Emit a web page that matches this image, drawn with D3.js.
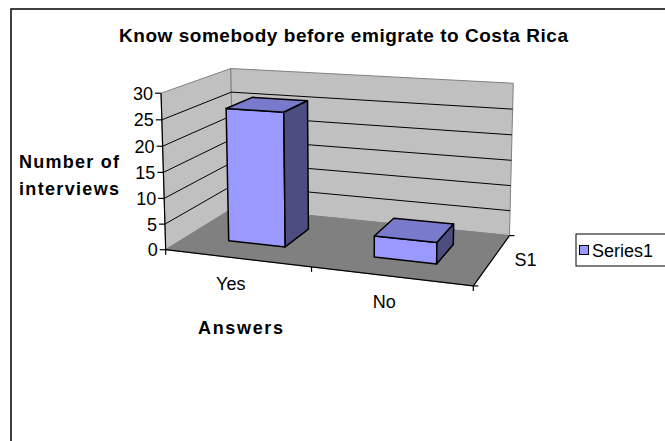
<!DOCTYPE html>
<html>
<head>
<meta charset="utf-8">
<script src="https://cdn.jsdelivr.net/npm/d3@7"></script>
<style>
  html, body { margin: 0; padding: 0; background: #fff; }
  svg text { font-family: "Liberation Sans", Arial, sans-serif; fill: #000; }
</style>
</head>
<body>
<svg id="chart" width="665" height="441"></svg>
<script>
// ---- data ----
const categories = ["Yes", "No"];
const values = [26, 4];
const seriesNames = ["Series1"];
const depthLabels = ["S1"];
const valueTicks = [0, 5, 10, 15, 20, 25, 30];
const titleText = "Know somebody before emigrate to Costa Rica";
const valueAxisTitle = ["Number of", "interviews"];
const categoryAxisTitle = "Answers";

// ---- 3D frame: unit cube (X = category, Y = value, Z = depth) and where its corners sit on screen ----
const frameCorners = [
  // X, Y, Z, screenX, screenY
  [0, 0, 0, 167, 248],
  [1, 0, 0, 473, 288],
  [0, 0, 1, 232, 210],
  [1, 0, 1, 510, 233],
  [0, 1, 0, 160, 93],
  [0, 1, 1, 232, 68],
  [1, 1, 1, 513, 84]
];

// Solve a 3x4 perspective camera matrix (DLT, least squares)
function solveCamera(pts) {
  const A = [], b = [];
  for (const [X, Y, Z, x, y] of pts) {
    A.push([X, Y, Z, 1, 0, 0, 0, 0, -x * X, -x * Y, -x * Z]); b.push(x);
    A.push([0, 0, 0, 0, X, Y, Z, 1, -y * X, -y * Y, -y * Z]); b.push(y);
  }
  const n = 11;
  const M = [];
  for (let i = 0; i < n; i++) {
    const row = new Array(n + 1).fill(0);
    for (let j = 0; j < n; j++) for (let k = 0; k < A.length; k++) row[j] += A[k][i] * A[k][j];
    for (let k = 0; k < A.length; k++) row[n] += A[k][i] * b[k];
    M.push(row);
  }
  for (let c = 0; c < n; c++) {
    let p = c;
    for (let r = c + 1; r < n; r++) if (Math.abs(M[r][c]) > Math.abs(M[p][c])) p = r;
    [M[c], M[p]] = [M[p], M[c]];
    for (let r = 0; r < n; r++) {
      if (r === c) continue;
      const f = M[r][c] / M[c][c];
      for (let j = c; j <= n; j++) M[r][j] -= f * M[c][j];
    }
  }
  return M.map((row, i) => row[n] / row[i]);
}
const P = solveCamera(frameCorners);
function project(X, Y, Z) {
  const w = P[8] * X + P[9] * Y + P[10] * Z + 1;
  return [
    (P[0] * X + P[1] * Y + P[2] * Z + P[3]) / w,
    (P[4] * X + P[5] * Y + P[6] * Z + P[7]) / w
  ];
}

// ---- scales ----
const xScale = d3.scaleBand().domain(categories).range([0, 1]).paddingInner(0.6).paddingOuter(0.3);
const zScale = d3.scaleBand().domain(depthLabels).range([0, 1]).paddingInner(0.6).paddingOuter(0.3);
const yScale = d3.scaleLinear().domain([0, 30]).range([0, 1]);

const svg = d3.select("#chart");
const line = d3.line();
const poly = pts => line(pts.map(p => project(...p))) + "Z";

// outer chart border
svg.append("rect").attr("x", 11).attr("y", 9).attr("width", 700).attr("height", 500)
  .attr("fill", "#fff").attr("stroke", "#000").attr("stroke-width", 1.5);

// title
svg.append("text").attr("x", 119).attr("y", 42)
  .attr("font-size", 19).attr("font-weight", "bold")
  .attr("textLength", 449).attr("lengthAdjust", "spacing")
  .text(titleText);

// walls
const wallFill = "#c0c0c0", wallEdge = "#808080";
svg.append("path").attr("d", poly([[0, 0, 0], [0, 0, 1], [0, 1, 1], [0, 1, 0]]))
  .attr("fill", wallFill).attr("stroke", wallEdge).attr("stroke-width", 1);
svg.append("path").attr("d", poly([[0, 0, 1], [1, 0, 1], [1, 1, 1], [0, 1, 1]]))
  .attr("fill", wallFill).attr("stroke", wallEdge).attr("stroke-width", 1);

// gridlines on both walls
const gridVals = valueTicks.filter(v => v > 0 && v < yScale.domain()[1]);
gridVals.forEach(v => {
  const y = yScale(v);
  svg.append("path").attr("d", line([project(0, y, 0), project(0, y, 1), project(1, y, 1)]))
    .attr("fill", "none").attr("stroke", "#000").attr("stroke-width", 1);
});

// floor
svg.append("path").attr("d", poly([[0, 0, 0], [1, 0, 0], [1, 0, 1], [0, 0, 1]]))
  .attr("fill", "#808080").attr("stroke", "#808080").attr("stroke-width", 1);

// axis lines
const axisStroke = { stroke: "#000", "stroke-width": 1.2, fill: "none" };
function axisLine(a, b) {
  const el = svg.append("path").attr("d", line([a, b]));
  Object.entries(axisStroke).forEach(([k, v]) => el.attr(k, v));
}
axisLine(project(0, 0, 0), project(0, 1, 0)); // value axis
axisLine(project(0, 0, 0), project(1, 0, 0)); // category axis
axisLine(project(1, 0, 0), project(1, 0, 1)); // depth axis

// value axis ticks and labels
valueTicks.forEach(v => {
  const [x, y] = project(0, yScale(v), 0);
  axisLine([x - 6, y], [x, y]);
  svg.append("text").attr("x", x - 8).attr("y", y).attr("dy", "0.36em")
    .attr("text-anchor", "end").attr("font-size", 18).text(v);
});

// category axis ticks and labels
const catBounds = [0, ...categories.map((c, i) => (i + 1) / categories.length)];
catBounds.forEach(u => {
  const [x, y] = project(u, 0, 0);
  axisLine([x, y], [x, y + 5]);
});
categories.forEach(c => {
  const [x, y] = project(xScale(c) + xScale.bandwidth() / 2, 0, 0);
  svg.append("text").attr("x", x - 6).attr("y", y + 32)
    .attr("text-anchor", "middle").attr("font-size", 18).text(c);
});

// depth axis ticks and label
[0, 1].forEach(z => {
  const [x, y] = project(1, 0, z);
  axisLine([x, y], [x + 5, y]);
});
depthLabels.forEach(s => {
  const [x, y] = project(1, 0, zScale(s) + zScale.bandwidth() / 2);
  svg.append("text").attr("x", x + 22).attr("y", y).attr("dy", "0.36em")
    .attr("font-size", 18).text(s);
});

// axis titles
valueAxisTitle.forEach((t, i) => {
  svg.append("text").attr("x", 19).attr("y", 168 + i * 27)
    .attr("font-size", 18).attr("font-weight", "bold")
    .attr("textLength", 100).attr("lengthAdjust", "spacing").text(t);
});
svg.append("text").attr("x", 198).attr("y", 334)
  .attr("font-size", 18).attr("font-weight", "bold")
  .attr("textLength", 85).attr("lengthAdjust", "spacing").text(categoryAxisTitle);

// bars
const barColor = d3.color("#9999ff");
const shade = k => d3.rgb(barColor.r * k, barColor.g * k, barColor.b * k).formatHex();
const z0 = zScale(depthLabels[0]), z1 = z0 + zScale.bandwidth();
categories.forEach((c, i) => {
  const x0 = xScale(c), x1 = x0 + xScale.bandwidth();
  const h = yScale(values[i]);
  const g = svg.append("g").attr("stroke", "#000").attr("stroke-width", 1.5).attr("stroke-linejoin", "round");
  g.append("path").attr("d", poly([[x0, 0, z0], [x1, 0, z0], [x1, h, z0], [x0, h, z0]])).attr("fill", barColor.formatHex());
  g.append("path").attr("d", poly([[x0, h, z0], [x1, h, z0], [x1, h, z1], [x0, h, z1]])).attr("fill", shade(0.8));
  g.append("path").attr("d", poly([[x1, 0, z0], [x1, 0, z1], [x1, h, z1], [x1, h, z0]])).attr("fill", shade(0.5));
});

// legend
const lg = svg.append("g");
lg.append("rect").attr("x", 576).attr("y", 234).attr("width", 100).attr("height", 32)
  .attr("fill", "#fff").attr("stroke", "#000").attr("stroke-width", 1);
seriesNames.forEach((s, i) => {
  lg.append("rect").attr("x", 579.5).attr("y", 245.5).attr("width", 9).attr("height", 9)
    .attr("fill", barColor.formatHex()).attr("stroke", "#000").attr("stroke-width", 1);
  lg.append("text").attr("x", 592).attr("y", 257).attr("font-size", 18).text(s);
});
</script>
</body>
</html>
